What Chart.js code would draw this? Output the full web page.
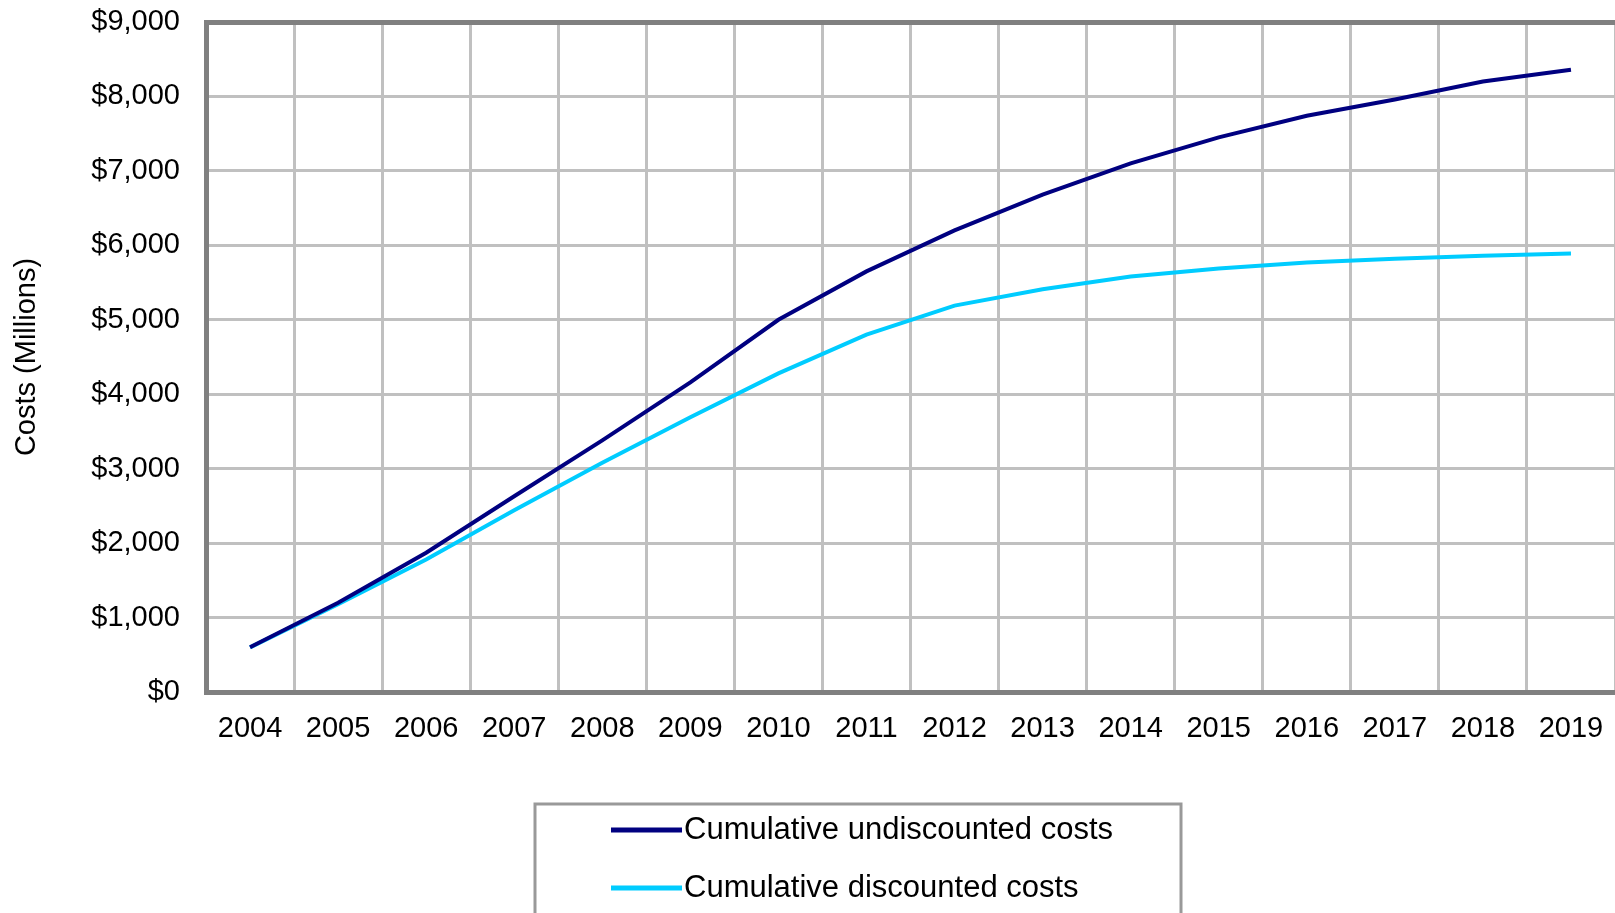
<!DOCTYPE html>
<html>
<head>
<meta charset="utf-8">
<title>Cumulative costs</title>
<script src="https://cdn.jsdelivr.net/npm/chart.js@4.4.1/dist/chart.umd.min.js"></script>
<style>
  html, body { margin: 0; padding: 0; background: #fff; overflow: hidden; }
  canvas { display: block; }
</style>
</head>
<body>
<canvas id="costChart" width="1615" height="913"></canvas>
<script>
// cumulative program costs, $ millions
const years = ['2004', '2005', '2006', '2007', '2008', '2009', '2010', '2011',
               '2012', '2013', '2014', '2015', '2016', '2017', '2018', '2019'];
const undiscounted = [600, 1200, 1870, 2630, 3380, 4160, 5000, 5650,
                      6200, 6680, 7100, 7450, 7740, 7960, 8200, 8360];
const discounted = [600, 1180, 1780, 2440, 3080, 3690, 4280, 4800,
                    5190, 5410, 5580, 5690, 5770, 5820, 5860, 5890];
const costTicks = [0, 1000, 2000, 3000, 4000, 5000, 6000, 7000, 8000, 9000];

const FONT = '"Liberation Sans", Arial, Helvetica, sans-serif';
const FRAME = '#808080';
const GRID = '#c0c0c0';

// boxed legend under the plot, drawn straight onto the canvas
const boxLegend = {
    id: 'boxLegend',
    afterDraw(chart) {
        const ctx = chart.ctx;
        ctx.save();
        ctx.strokeStyle = '#999999';
        ctx.lineWidth = 3;
        ctx.strokeRect(535, 804, 646, 140);
        ctx.font = '31px ' + FONT;
        ctx.fillStyle = '#000';
        ctx.textBaseline = 'middle';
        chart.data.datasets.forEach((ds, i) => {
            const y = 830 + i * 58;
            ctx.strokeStyle = ds.borderColor;
            ctx.lineWidth = 5;
            ctx.beginPath();
            ctx.moveTo(611, y);
            ctx.lineTo(682, y);
            ctx.stroke();
            ctx.fillText(ds.label, 684, y);
        });
        ctx.restore();
    }
};

new Chart(document.getElementById('costChart').getContext('2d'), {
    type: 'line',
    data: {
        labels: years,
        datasets: [{
            label: 'Cumulative undiscounted costs',
            data: undiscounted,
            borderColor: '#000080',
            borderWidth: 4,
            pointRadius: 0,
            tension: 0
        }, {
            label: 'Cumulative discounted costs',
            data: discounted,
            borderColor: '#00ccff',
            borderWidth: 4,
            pointRadius: 0,
            tension: 0
        }]
    },
    options: {
        responsive: false,
        animation: false,
        layout: { padding: { top: 22, right: 0, bottom: 0, left: 0 } },
        plugins: {
            legend: { display: false },
            tooltip: { enabled: false }
        },
        scales: {
            x: {
                offset: true,
                afterFit: scale => {
                    scale.height = 221;
                    scale.paddingLeft = 0;
                    scale.paddingRight = 0;
                },
                grid: {
                    offset: true,
                    drawTicks: false,
                    lineWidth: 3,
                    color: ctx => ctx.index === 0 ? 'rgba(0,0,0,0)' : GRID
                },
                border: { color: FRAME, width: 5 },
                ticks: {
                    padding: 20,
                    maxRotation: 0,
                    autoSkip: false,
                    color: '#000',
                    font: { family: FONT, size: 29 }
                }
            },
            y: {
                min: 0,
                max: 9000,
                afterFit: scale => {
                    scale.width = 206;
                    scale.paddingTop = 0;
                    scale.paddingBottom = 0;
                },
                afterBuildTicks: scale => {
                    scale.ticks = costTicks.map(v => ({ value: v }));
                },
                grid: {
                    drawTicks: false,
                    lineWidth: ctx => (ctx.tick && (ctx.tick.value === 9000 || ctx.tick.value === 0)) ? 5 : 3,
                    color: ctx => (ctx.tick && (ctx.tick.value === 9000 || ctx.tick.value === 0)) ? FRAME : GRID
                },
                border: { color: FRAME, width: 5 },
                ticks: {
                    padding: 26,
                    color: '#000',
                    font: { family: FONT, size: 29 },
                    callback: v => '$' + Number(v).toLocaleString('en-US')
                },
                title: {
                    display: true,
                    text: 'Costs (Millions)',
                    color: '#000',
                    font: { family: FONT, size: 29 },
                    padding: { top: 10, bottom: 0 }
                }
            }
        }
    },
    plugins: [boxLegend]
});
</script>
</body>
</html>
